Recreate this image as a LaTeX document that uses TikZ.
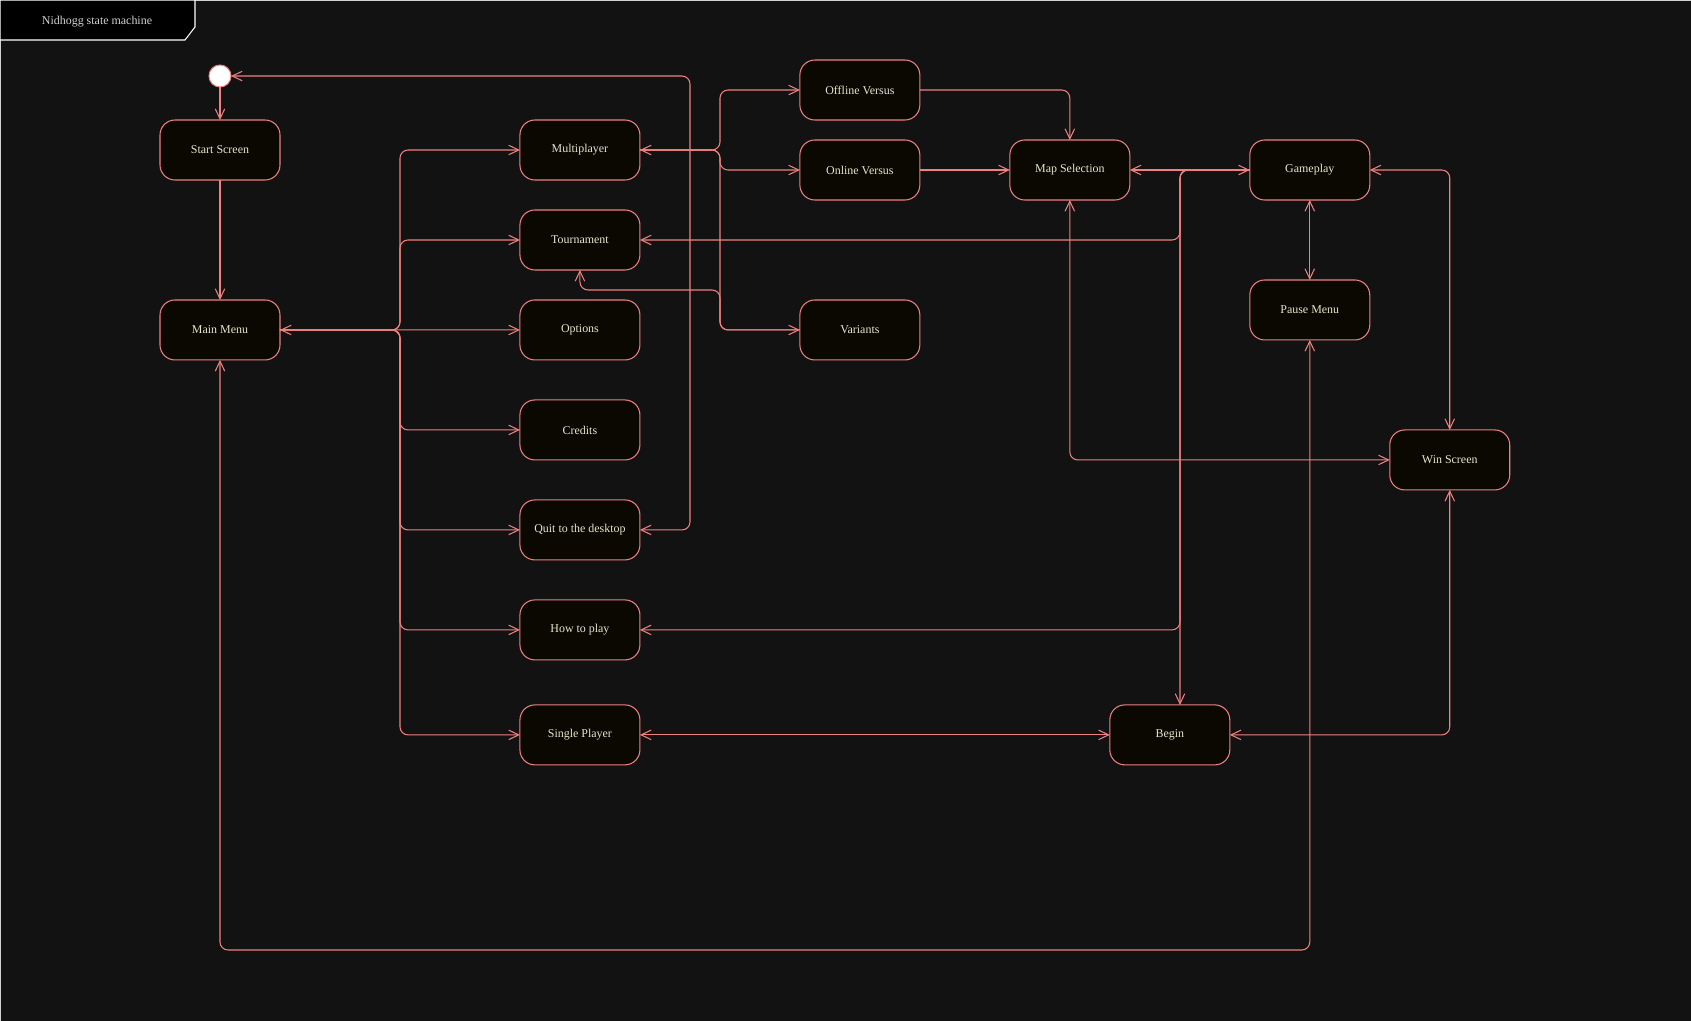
\documentclass[tikz,border=0pt]{standalone}
\usepackage{fontspec}
\setmainfont{Liberation Serif}
\usetikzlibrary{arrows.meta,positioning}

\definecolor{bgdark}{RGB}{18,18,18}
\definecolor{coral}{RGB}{240,128,128}
\definecolor{statefill}{RGB}{10,8,0}
\definecolor{ink}{RGB}{230,230,205}
\definecolor{framegray}{RGB}{210,210,210}

\begin{document}
\begin{tikzpicture}[
  x=0.02cm, y=-0.02cm,
  font=\fontsize{6.8}{8}\selectfont,
  umlhead/.tip={Straight Barb[length=2mm, width=1.9mm]},
  state/.style={draw=coral, fill=statefill, text=ink, line width=0.6pt, rounded corners=3mm, minimum width=24mm, minimum height=12mm, inner sep=0pt, outer sep=0pt},
  initial/.style={circle, draw=coral, fill=white, line width=0.6pt, minimum size=4.4mm, inner sep=0pt, outer sep=0pt},
  link/.style={draw=coral, line width=0.6pt, rounded corners=1.6mm, -umlhead},
  both/.style={link, umlhead-umlhead}
]

\useasboundingbox (0,0) rectangle (1691,1021);
\fill[bgdark] (0,0) rectangle (1691,1021);
\draw[framegray, line width=0.6pt] (0.5,0.5) rectangle (1720,1050);
\draw[white, fill=black, line width=0.6pt] (0,0) -- (195,0) -- (195,27) -- (185,40) -- (0,40) -- cycle;
\node[text=framegray] (title) at (97,21.5) {Nidhogg state machine};

\node[state] (start) at (220,150) {Start Screen};
\node[initial, above=6.6mm of start] (init) {};
\node[state, below=24mm of start] (mm) {Main Menu};

\node[state, right=48mm of start] (multi) {Multiplayer};
\node[state, below=6mm of multi] (tourn) {Tournament};
\node[state, below=6mm of tourn] (options) {Options};
\node[state, below=8mm of options] (credits) {Credits};
\node[state, below=8mm of credits] (quit) {Quit to the desktop};
\node[state, below=8mm of quit] (howto) {How to play};
\node[state, below=9mm of howto] (single) {Single Player};

\node[state, right=32mm of multi, yshift=-4mm] (online) {Online Versus};
\node[state, above=4mm of online] (offline) {Offline Versus};
\node[state, below=20mm of online] (variants) {Variants};
\node[state, right=18mm of online] (map) {Map Selection};
\node[state, right=24mm of map] (game) {Gameplay};
\node[state, below=16mm of game] (pause) {Pause Menu};
\node[state, below=46mm of game, xshift=28mm] (win) {Win Screen};
\node[state, right=94mm of single] (begin) {Begin};

\coordinate (trunkA) at (400,0);
\coordinate (trunkQ) at (690,0);
\coordinate (trunkB) at (720,0);
\coordinate (trunkG) at (1180,0);
\coordinate (floor) at (0,950);

\draw[link] (init) -- (start);
\draw[link] (start) -- (mm);

\foreach \s in {multi,tourn,credits,quit,howto,single} {
  \draw[link] (mm.east) -- (mm.east -| trunkA) |- (\s.west);
}
\draw[both] (mm.east) -- (options.west);

\draw[both] (quit.east) -| (trunkQ |- init.east) -- (init.east);

\draw[both] (multi.east) -- (multi.east -| trunkB) |- (offline.west);
\draw[link] (multi.east) -- (multi.east -| trunkB) |- (online.west);
\draw[link] (multi.east) -- (multi.east -| trunkB) |- (variants.west);
\draw[link] (variants.west) -- (variants.west -| trunkB) |- ([yshift=-4mm]tourn.south) -- (tourn.south);

\draw[link] (offline.east) -| (map.north);
\draw[link] (online) -- (map);
\draw[both] (map) -- (game);

\draw[link] (game.west) -- (game.west -| trunkG) |- (tourn.east);
\draw[link] (game.west) -- (game.west -| trunkG) |- (howto.east);
\draw[link] (game.west) -- (game.west -| trunkG) -- (trunkG |- begin.north);

\draw[both] (game) -- (pause);
\draw[both] (game.east) -| (win.north);
\draw[both] (map.south) |- (win.west);
\draw[both] (single) -- (begin);
\draw[both] (begin.east) -| (win.south);
\draw[both] (pause.south) -- (pause.south |- floor) -| (mm.south);

\end{tikzpicture}
\end{document}
